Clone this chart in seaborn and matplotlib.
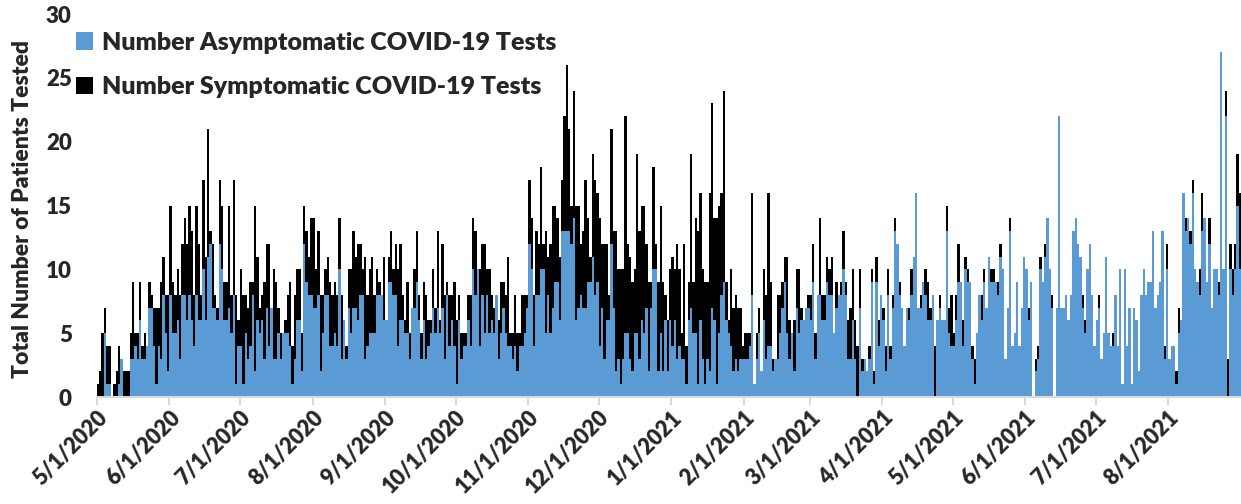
import pandas as pd
import seaborn as sns
from matplotlib import pyplot as plt
from matplotlib.patches import Patch

start_date = "2020-05-01"

# daily totals (top of each stacked bar), one row per month
total_tested = [
    1, 2, 5, 7, 4, 4, 0, 1, 2, 4, 3, 2, 2, 2, 5, 9, 5, 5, 9, 4, 5, 4, 9, 8, 7, 7, 7, 9, 11, 8, 8,
    15, 9, 8, 10, 8, 12, 14, 12, 15, 13, 8, 15, 12, 8, 17, 11, 21, 13, 12, 8, 7, 17, 15, 9, 9, 15, 8, 17, 8, 6,
    10, 8, 8, 7, 9, 9, 15, 11, 7, 8, 9, 12, 12, 7, 10, 9, 7, 5, 5, 6, 8, 9, 4, 8, 10, 10, 5, 15, 13, 11, 14,
    14, 10, 13, 8, 8, 10, 11, 9, 8, 9, 8, 14, 8, 6, 4, 10, 10, 13, 11, 12, 12, 10, 11, 8, 10, 11, 8, 10, 9, 8, 11,
    6, 11, 13, 10, 12, 10, 12, 8, 6, 9, 5, 7, 10, 13, 8, 5, 9, 8, 6, 6, 10, 7, 13, 6, 12, 8, 9, 8, 8, 9,
    6, 8, 5, 5, 5, 8, 8, 14, 13, 10, 10, 12, 12, 10, 10, 8, 7, 8, 6, 9, 9, 8, 11, 5, 5, 8, 5, 5, 8, 8, 8,
    17, 14, 8, 13, 12, 18, 12, 13, 11, 12, 15, 15, 14, 11, 17, 22, 26, 21, 15, 24, 15, 15, 12, 13, 17, 14, 11, 19, 17, 16,
    14, 12, 12, 12, 8, 21, 13, 13, 10, 10, 10, 22, 12, 11, 9, 10, 19, 13, 15, 15, 12, 9, 9, 18, 12, 9, 15, 9, 8, 6, 10,
    11, 10, 12, 10, 5, 12, 4, 9, 19, 9, 14, 13, 16, 10, 9, 9, 16, 23, 14, 14, 15, 16, 24, 9, 6, 10, 7, 8, 7, 7, 4,
    5, 5, 5, 16, 1, 5, 7, 2, 10, 8, 16, 9, 3, 3, 8, 8, 9, 11, 11, 6, 5, 6, 10, 10, 7, 6, 7, 8,
    8, 12, 5, 8, 14, 8, 8, 11, 10, 11, 5, 9, 8, 9, 13, 9, 6, 7, 10, 6, 4, 10, 3, 3, 2, 4, 10, 2, 11, 6, 8,
    7, 4, 10, 4, 8, 14, 12, 9, 7, 4, 7, 7, 10, 11, 16, 7, 8, 9, 10, 9, 7, 8, 4, 6, 8, 6, 6, 15, 7, 8,
    5, 8, 12, 9, 6, 11, 10, 9, 4, 3, 5, 8, 8, 10, 7, 11, 10, 10, 9, 9, 12, 10, 3, 7, 14, 4, 5, 9, 4, 7, 11,
    10, 7, 9, 0, 3, 4, 11, 9, 12, 14, 10, 8, 0, 7, 22, 7, 7, 8, 6, 8, 13, 14, 12, 11, 8, 6, 10, 12, 8, 4,
    6, 8, 3, 5, 11, 5, 4, 5, 8, 4, 10, 1, 10, 4, 7, 1, 7, 6, 2, 8, 10, 8, 9, 9, 13, 7, 8, 9, 13, 4, 12,
    3, 4, 4, 2, 7, 6, 16, 14, 14, 13, 17, 10, 9, 10, 16, 14, 9, 14, 7, 10, 10, 9, 27, 10, 24, 3, 12, 10, 12, 19, 16,
]

# daily asymptomatic tests (blue part), same layout
asymptomatic = [
    0, 0, 0, 5, 1, 1, 0, 0, 0, 1, 3, 0, 0, 0, 3, 3, 4, 3, 6, 3, 3, 4, 7, 7, 4, 1, 4, 3, 8, 5, 2,
    8, 5, 5, 6, 3, 8, 8, 6, 8, 6, 4, 8, 6, 6, 10, 6, 11, 12, 7, 7, 6, 12, 10, 6, 6, 7, 5, 8, 1, 4,
    4, 1, 5, 3, 4, 8, 2, 6, 5, 6, 3, 7, 4, 7, 3, 3, 5, 3, 5, 5, 5, 4, 1, 3, 6, 6, 2, 12, 9, 8, 8,
    7, 7, 8, 2, 5, 8, 8, 4, 4, 5, 4, 10, 3, 6, 3, 7, 5, 7, 7, 6, 8, 8, 3, 4, 5, 5, 5, 8, 8, 8, 6,
    6, 9, 9, 8, 8, 4, 6, 6, 5, 5, 3, 7, 7, 9, 6, 3, 6, 3, 4, 5, 7, 5, 7, 5, 7, 3, 8, 4, 6, 4,
    1, 6, 3, 4, 4, 6, 4, 10, 8, 10, 4, 8, 5, 8, 5, 6, 5, 8, 3, 5, 7, 5, 4, 4, 3, 4, 2, 4, 4, 5, 7,
    12, 10, 4, 8, 8, 10, 10, 5, 8, 5, 7, 9, 9, 6, 13, 13, 13, 13, 12, 14, 6, 7, 8, 7, 7, 9, 9, 11, 8, 9,
    4, 7, 3, 6, 6, 12, 7, 2, 3, 1, 3, 5, 5, 3, 2, 5, 5, 3, 6, 5, 7, 2, 7, 10, 10, 2, 5, 2, 6, 2, 6,
    4, 6, 3, 4, 3, 3, 1, 6, 7, 5, 5, 1, 6, 3, 1, 3, 2, 7, 6, 1, 5, 8, 9, 6, 5, 4, 2, 3, 2, 3, 3,
    3, 3, 4, 8, 1, 3, 5, 2, 6, 3, 4, 4, 2, 3, 3, 5, 7, 9, 5, 3, 5, 2, 7, 5, 6, 6, 7, 7,
    6, 9, 3, 8, 8, 6, 6, 9, 8, 8, 5, 7, 8, 8, 10, 8, 3, 3, 6, 3, 0, 7, 2, 3, 2, 3, 9, 1, 9, 4, 8,
    6, 2, 8, 3, 7, 13, 12, 8, 7, 4, 7, 6, 8, 11, 16, 7, 7, 9, 8, 6, 6, 8, 0, 6, 7, 6, 6, 13, 5, 4,
    4, 6, 9, 9, 4, 10, 9, 9, 3, 1, 5, 8, 6, 9, 7, 11, 9, 9, 9, 8, 11, 10, 3, 7, 13, 4, 5, 9, 4, 7, 11,
    10, 6, 9, 0, 2, 3, 10, 9, 11, 14, 10, 7, 0, 7, 22, 7, 7, 8, 6, 8, 13, 14, 12, 11, 7, 5, 10, 12, 8, 4,
    6, 7, 3, 5, 11, 5, 4, 4, 8, 4, 10, 1, 10, 4, 7, 1, 7, 6, 2, 8, 10, 8, 9, 9, 13, 7, 8, 9, 13, 3, 10,
    3, 4, 4, 1, 5, 6, 16, 13, 14, 12, 16, 10, 9, 8, 13, 14, 9, 12, 7, 10, 10, 8, 27, 10, 22, 0, 10, 8, 10, 15, 10,
]

tick_labels = [
    "5/1/2020", "6/1/2020", "7/1/2020", "8/1/2020", "9/1/2020", "10/1/2020",
    "11/1/2020", "12/1/2020", "1/1/2021", "2/1/2021", "3/1/2021", "4/1/2021",
    "5/1/2021", "6/1/2021", "7/1/2021", "8/1/2021",
]

series_names = ["Number Asymptomatic COVID-19 Tests", "Number Symptomatic COVID-19 Tests"]
BLUE = "#5B9BD5"

df = pd.DataFrame({
    "date": pd.date_range(start_date, periods=len(total_tested)),
    "total": total_tested,
    "asym": asymptomatic,
})
df["day"] = (df["date"] - pd.Timestamp(start_date)).dt.days

sns.set_theme(style="white")
plt.rcParams["font.family"] = ["Lato", "DejaVu Sans"]

fig = plt.figure(figsize=(12.41, 5.04), dpi=100)
ax = fig.add_axes([0.078, 0.2123, 0.922, 0.7599])

bar_kw = dict(native_scale=True, width=1, saturation=1, errorbar=None,
              linewidth=0, edgecolor="none", antialiased=False, ax=ax)
# symptomatic sits on top of asymptomatic -> draw total in black, asym over it
sns.barplot(data=df, x="day", y="total", color="black", **bar_kw)
sns.barplot(data=df, x="day", y="asym", color=BLUE, **bar_kw)

tick_pos = [(pd.to_datetime(t, format="%m/%d/%Y") - pd.Timestamp(start_date)).days - 0.5
            for t in tick_labels]
ax.set_xticks(tick_pos)
ax.set_xticklabels(tick_labels, rotation=45, ha="right", rotation_mode="anchor",
                   fontsize=15.5, fontweight="heavy")
ax.set_xlim(-0.5, len(df) - 0.5)
ax.set_ylim(0, 30)
ax.set_yticks(range(0, 31, 5))
ax.set_yticklabels([str(v) for v in range(0, 31, 5)], fontsize=16, fontweight="heavy")
ax.set_xlabel("")
ax.set_ylabel("")

for s in ["left", "top", "right"]:
    ax.spines[s].set_visible(False)
ax.spines["bottom"].set_color("#D9D9D9")
ax.spines["bottom"].set_linewidth(1.5)
ax.tick_params(axis="x", bottom=True, length=6, width=1.5, color="#D9D9D9", pad=1)
ax.tick_params(axis="y", left=False, pad=12)

fig.text(0.018, 0.585, "Total Number of Patients Tested", rotation=90,
         ha="center", va="center", fontsize=16.5, fontweight="heavy")

handles = [Patch(facecolor=BLUE, edgecolor="none"), Patch(facecolor="black", edgecolor="none")]
fig.legend(handles, series_names, loc="upper left", bbox_to_anchor=(0.043, 0.982),
           frameon=False, prop={"size": 18, "weight": "heavy"},
           handlelength=0.7, handleheight=0.7, handletextpad=0.35, labelspacing=0.9)

fig.savefig("out.png", dpi=100)
